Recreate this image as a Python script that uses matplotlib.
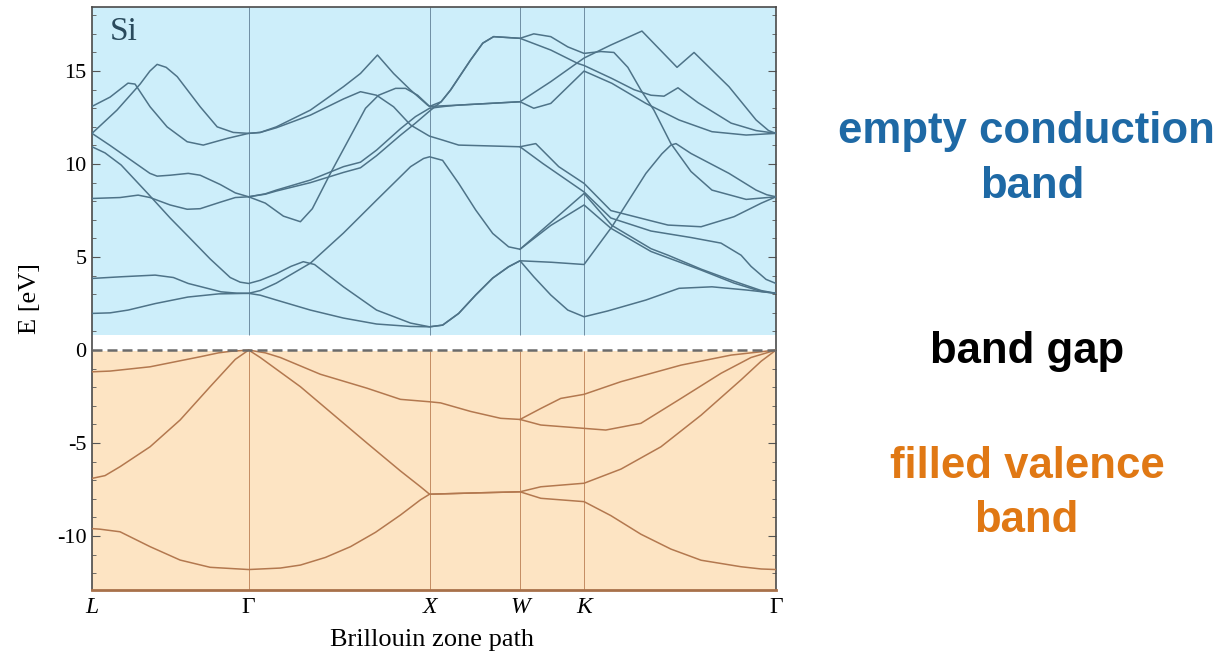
import matplotlib
matplotlib.use("Agg")
import matplotlib.pyplot as plt
from matplotlib.ticker import MultipleLocator

plt.rcParams['font.family'] = ['Liberation Serif', 'DejaVu Serif']

# high symmetry points along the path (units of 2pi/a)
sym_labels = ['L', 'Γ', 'X', 'W', 'K', 'Γ']
sym_k = [0.0, 0.866, 1.866, 2.366, 2.720, 3.781]

# valence bands, (k, E)
val1 = [(0, -9.6), (0.044, -9.63), (0.155, -9.77), (0.321, -10.57), (0.487, -11.29), (0.653, -11.68),
        (0.866, -11.8), (1.041, -11.72), (1.152, -11.56), (1.29, -11.15), (1.429, -10.57), (1.567, -9.8),
        (1.705, -8.87), (1.816, -8.05), (1.866, -7.75), (2.12, -7.68), (2.366, -7.62), (2.481, -7.97),
        (2.72, -8.15), (2.868, -8.9), (3.034, -9.9), (3.2, -10.7), (3.367, -11.3), (3.588, -11.65),
        (3.699, -11.77), (3.781, -11.8)]
val2 = [(0, -6.9), (0.072, -6.75), (0.155, -6.27), (0.321, -5.2), (0.487, -3.76), (0.653, -1.97),
        (0.792, -0.5), (0.866, 0), (0.93, -0.4), (1.152, -1.97), (1.52, -5.0), (1.705, -6.5),
        (1.816, -7.35), (1.866, -7.75), (2.12, -7.68), (2.366, -7.62), (2.481, -7.35), (2.72, -7.16),
        (2.924, -6.4), (3.145, -5.2), (3.367, -3.5), (3.588, -1.6), (3.699, -0.6), (3.781, 0)]
val3 = [(0, -1.17), (0.1, -1.13), (0.321, -0.9), (0.598, -0.36), (0.70, -0.15), (0.764, -0.07),
        (0.866, 0), (0.958, -0.15), (1.041, -0.4), (1.262, -1.3), (1.52, -2.05), (1.705, -2.65),
        (1.866, -2.78), (1.927, -2.84), (2.093, -3.3), (2.259, -3.67), (2.366, -3.73), (2.481, -4.03),
        (2.72, -4.21), (2.84, -4.3), (3.034, -3.94), (3.256, -2.6), (3.477, -1.25), (3.643, -0.4),
        (3.781, 0)]
val4 = [(2.366, -3.73), (2.481, -3.14), (2.591, -2.6), (2.72, -2.38), (2.924, -1.7), (3.256, -0.81),
        (3.533, -0.27), (3.781, 0)]

# conduction bands
cond1 = [(0, 1.97), (0.1, 2.0), (0.2, 2.15), (0.35, 2.5), (0.53, 2.85), (0.70, 3.02), (0.866, 3.05),
         (0.93, 2.95), (1.019, 2.69), (1.207, 2.15), (1.39, 1.72), (1.573, 1.4), (1.76, 1.27),
         (1.866, 1.25), (1.938, 1.34), (2.027, 1.97), (2.121, 2.96), (2.215, 3.87), (2.303, 4.48),
         (2.366, 4.8), (2.442, 3.94), (2.536, 2.96), (2.63, 2.15), (2.72, 1.79), (2.85, 2.1),
         (3.062, 2.69), (3.245, 3.32), (3.427, 3.4), (3.616, 3.23), (3.781, 3.05)]
cond2 = [(0, 3.85), (0.161, 3.94), (0.349, 4.03), (0.45, 3.9), (0.532, 3.58), (0.714, 3.13),
         (0.80, 3.06), (0.866, 3.05), (0.93, 3.2), (1.019, 3.6), (1.207, 4.67), (1.39, 6.29),
         (1.573, 8.06), (1.761, 9.86), (1.833, 10.3), (1.866, 10.39), (1.90, 10.3), (1.938, 10.2),
         (2.027, 8.96), (2.121, 7.53), (2.215, 6.27), (2.303, 5.55), (2.366, 5.42), (2.72, 8.42),
         (2.874, 6.7), (3.09, 5.45), (3.184, 5.1), (3.367, 4.35), (3.549, 3.7), (3.699, 3.2), (3.781, 3.05)]
cond3 = [(0, 10.93), (0.072, 10.6), (0.161, 9.95), (0.31, 8.4), (0.432, 7.1), (0.543, 6.0), (0.653, 4.9),
         (0.764, 3.9), (0.819, 3.65), (0.866, 3.58), (0.93, 3.75), (1.019, 4.1), (1.10, 4.5),
         (1.168, 4.75), (1.23, 4.6), (1.39, 3.4), (1.573, 2.15), (1.761, 1.45), (1.866, 1.25),
         (1.938, 1.34), (2.027, 1.97), (2.121, 2.96), (2.215, 3.87), (2.303, 4.48), (2.366, 4.8),
         (2.54, 4.72), (2.72, 4.6), (2.874, 6.63), (3.062, 9.5), (3.15, 10.55), (3.2, 11.02),
         (3.228, 11.1), (3.311, 10.57), (3.521, 9.5), (3.671, 8.6), (3.73, 8.35), (3.781, 8.24)]
cond4 = [(0, 11.65), (0.1, 11.0), (0.21, 10.25), (0.32, 9.5), (0.36, 9.35), (0.432, 9.4), (0.532, 9.5),
         (0.598, 9.4), (0.709, 8.9), (0.792, 8.45), (0.866, 8.24), (0.958, 7.9), (1.058, 7.2),
         (1.152, 6.9), (1.218, 7.6), (1.318, 9.5), (1.429, 11.5), (1.512, 13.0), (1.584, 13.7),
         (1.678, 14.07), (1.733, 14.07), (1.8, 13.7), (1.866, 13.1), (1.93, 13.35), (1.982, 13.98),
         (2.093, 15.6), (2.16, 16.5), (2.22, 16.85), (2.366, 16.76), (2.442, 17.0), (2.536, 16.85),
         (2.63, 16.3), (2.72, 15.95), (2.813, 16.05), (2.885, 16.0), (2.962, 15.2), (3.034, 13.98),
         (3.106, 12.9), (3.2, 11.1), (3.311, 9.6), (3.427, 8.6), (3.616, 8.1), (3.781, 8.24)]
cond5 = [(0, 8.15), (0.155, 8.2), (0.255, 8.33), (0.321, 8.2), (0.432, 7.8), (0.526, 7.57), (0.598, 7.6),
         (0.709, 7.95), (0.792, 8.2), (0.866, 8.24), (0.958, 8.4), (1.019, 8.6), (1.207, 9.14),
         (1.39, 9.86), (1.484, 10.1), (1.573, 10.75), (1.705, 11.9), (1.788, 12.55), (1.866, 13.0),
         (1.95, 13.1), (2.027, 13.17), (2.366, 13.35), (2.536, 14.43), (2.72, 15.7), (2.868, 16.4),
         (3.04, 17.15), (3.234, 15.2), (3.328, 16.0), (3.521, 14.16), (3.671, 12.37), (3.74, 11.8),
         (3.781, 11.65)]
cond6 = [(0, 11.65), (0.138, 12.9), (0.266, 14.3), (0.32, 15.0), (0.36, 15.36), (0.41, 15.2), (0.471, 14.7),
         (0.598, 13.08), (0.692, 12.0), (0.781, 11.7), (0.866, 11.65), (0.93, 11.7), (1.019, 12.0),
         (1.207, 12.9), (1.39, 14.16), (1.484, 14.87), (1.578, 15.86), (1.667, 14.87), (1.761, 13.98),
         (1.855, 13.17), (1.866, 13.1), (2.027, 13.17), (2.366, 13.35), (2.442, 13.0), (2.536, 13.26),
         (2.72, 15.0), (2.874, 14.34), (3.062, 13.26), (3.245, 12.37), (3.427, 11.74), (3.616, 11.56),
         (3.781, 11.65)]
cond7 = [(0, 13.1), (0.1, 13.6), (0.199, 14.35), (0.238, 14.3), (0.321, 13.08), (0.415, 12.0),
         (0.526, 11.2), (0.615, 11.02), (0.748, 11.38), (0.866, 11.65), (0.93, 11.7), (1.019, 11.95),
         (1.207, 12.63), (1.39, 13.5), (1.484, 13.89), (1.573, 13.7), (1.667, 13.08), (1.761, 12.1),
         (1.855, 11.56), (1.866, 11.5), (1.938, 11.29), (2.027, 11.02), (2.366, 10.93), (2.453, 11.1),
         (2.58, 9.86), (2.72, 8.96), (2.868, 7.5), (3.09, 6.95), (3.184, 6.72), (3.367, 6.63),
         (3.549, 7.17), (3.70, 7.9), (3.781, 8.24)]
cond8 = [(0.866, 8.24), (0.958, 8.38), (1.019, 8.55), (1.207, 9.0), (1.39, 9.55), (1.484, 9.8),
         (1.573, 10.45), (1.705, 11.55), (1.788, 12.2), (1.866, 12.85), (1.93, 13.35), (1.982, 13.98),
         (2.093, 15.6), (2.16, 16.5), (2.22, 16.85), (2.366, 16.76), (2.536, 16.13), (2.685, 15.41),
         (2.72, 15.3), (2.874, 14.6), (2.996, 14.0), (3.09, 13.7), (3.162, 13.65), (3.239, 14.1),
         (3.35, 13.3), (3.533, 12.2), (3.671, 11.8), (3.781, 11.65)]
cond9 = [(2.366, 10.93), (2.492, 10.03), (2.72, 8.5), (2.868, 7.1), (3.09, 6.4), (3.311, 6.05),
         (3.477, 5.75), (3.588, 5.1), (3.643, 4.5), (3.726, 3.8), (3.781, 3.58)]
cond10 = [(2.366, 5.42), (2.536, 6.7), (2.72, 7.8), (2.868, 6.55), (3.09, 5.3), (3.367, 4.3),
          (3.549, 3.6), (3.699, 3.15), (3.781, 3.05)]

valence = [val1, val2, val3, val4]
conduction = [cond1, cond2, cond3, cond4, cond5, cond6, cond7, cond8, cond9, cond10]

ylo, yhi = -12.9, 18.46
cb_bottom = 0.8   # where the blue shading starts

fig = plt.figure(figsize=(12.24, 6.56), dpi=100)
ax = fig.add_axes([92/1224, 1-590/656, 684/1224, 583.3/656])

ax.axhspan(cb_bottom, yhi, color='#cdeefa', lw=0, zorder=0)
ax.axhspan(ylo, -0.05, color='#fde4c3', lw=0, zorder=0)

for k in sym_k[1:-1]:
    ax.vlines(k, cb_bottom, yhi, color='#6f8ea3', lw=0.7, zorder=1)
    ax.vlines(k, ylo, -0.05, color='#c48c63', lw=0.7, zorder=1)

for band in conduction:
    ks, es = zip(*band)
    ax.plot(ks, es, color='#4e7388', lw=1.1, zorder=3, solid_joinstyle='round')
for band in valence:
    ks, es = zip(*band)
    ax.plot(ks, es, color='#b3784f', lw=1.1, zorder=3, solid_joinstyle='round')

ax.axhline(0, color='#6b6b6b', lw=1.8, dashes=(4, 2), zorder=4)

ax.set_xlim(sym_k[0], sym_k[-1])
ax.set_ylim(ylo, yhi)

ax.set_xticks(sym_k)
ax.set_xticklabels(sym_labels, fontsize=17)
for lab in ax.get_xticklabels():
    if lab.get_text() != 'Γ':
        lab.set_fontstyle('italic')
ax.tick_params(axis='x', length=0, pad=5)

ax.set_yticks([-10, -5, 0, 5, 10, 15])
ax.set_yticklabels(['-10', '-5', '0', '5', '10', '15'], fontsize=16)
ax.yaxis.set_minor_locator(MultipleLocator(1))
ax.tick_params(axis='y', which='both', direction='in', left=True, right=True, color='#555555', pad=4)
ax.tick_params(axis='y', which='major', length=6)
ax.tick_params(axis='y', which='minor', length=3)

for s in ['left', 'top', 'right']:
    ax.spines[s].set_color('#4a4a4a')
    ax.spines[s].set_linewidth(1.2)
ax.spines['bottom'].set_color('#a8714a')
ax.spines['bottom'].set_linewidth(2)

ax.text(0.026, 0.943, 'Si', transform=ax.transAxes, fontsize=24, color='#2a4a5c')

fig.text(30/1224, 1-298/656, 'E [eV]', rotation=90, ha='center', va='center', fontsize=19)
fig.text(432/1224, 1-640/656, 'Brillouin zone path', ha='center', va='center', fontsize=19)

# annotations on the right
side = dict(ha='center', va='baseline', fontsize=31.5, fontweight='bold', family='Liberation Sans')
fig.text(1026/1224, 1-143/656, 'empty conduction', color='#1e69a5', **side)
fig.text(1032/1224, 1-198/656, 'band', color='#1e69a5', **side)
fig.text(1027/1224, 1-363/656, 'band gap', color='black', **side)
fig.text(1027/1224, 1-478/656, 'filled valence', color='#e07814', **side)
fig.text(1026/1224, 1-532/656, 'band', color='#e07814', **side)

fig.savefig('out.png', dpi=100)
